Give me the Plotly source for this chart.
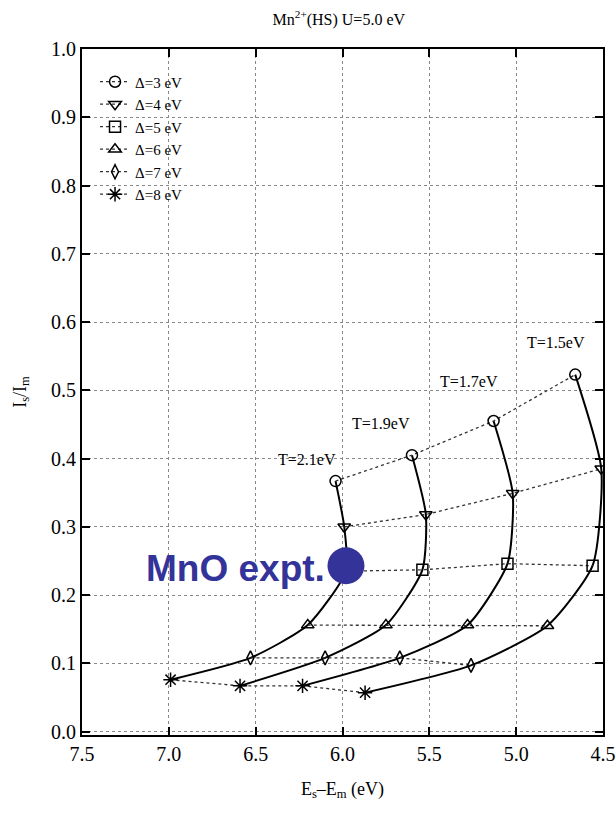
import plotly.graph_objects as go

T_labels = ["T=2.1eV", "T=1.9eV", "T=1.7eV", "T=1.5eV"]
T_label_x = [6.205, 5.78, 5.27, 4.77]
T_label_y = [0.398, 0.452, 0.513, 0.570]

delta_names = ["Δ=3 eV", "Δ=4 eV", "Δ=5 eV", "Δ=6 eV", "Δ=7 eV", "Δ=8 eV"]
delta3_x = [6.04, 5.60, 5.13, 4.66]
delta3_y = [0.367, 0.405, 0.455, 0.523]
delta4_x = [5.99, 5.52, 5.02, 4.51]
delta4_y = [0.300, 0.318, 0.349, 0.385]
delta5_x = [5.98, 5.54, 5.05, 4.56]
delta5_y = [0.235, 0.237, 0.246, 0.243]
delta6_x = [6.20, 5.75, 5.28, 4.82]
delta6_y = [0.156, 0.156, 0.156, 0.155]
delta7_x = [6.53, 6.10, 5.67, 5.26]
delta7_y = [0.108, 0.108, 0.108, 0.097]
delta8_x = [6.99, 6.59, 6.23, 5.87]
delta8_y = [0.076, 0.067, 0.067, 0.057]

mno_x = [5.98]
mno_y = [0.243]

all_x = [delta3_x, delta4_x, delta5_x, delta6_x, delta7_x, delta8_x]
all_y = [delta3_y, delta4_y, delta5_y, delta6_y, delta7_y, delta8_y]
symbols = ["circle-open", "triangle-down-open", "square-open", "triangle-up-open",
           "diamond-tall-open", "asterisk-open"]
sizes = [11, 11, 11, 11, 10, 12]

SERIF = "Liberation Serif, Times New Roman, serif"

fig = go.Figure()

# solid lines: constant T across Δ
for j in range(len(T_labels)):
    fig.add_trace(go.Scatter(
        x=[xs[j] for xs in all_x], y=[ys[j] for ys in all_y],
        mode="lines", line=dict(color="black", width=2, shape="spline", smoothing=0.6),
        showlegend=False, hoverinfo="skip"))

# dotted lines + markers: constant Δ across T
for name, xs, ys, sym, sz in zip(delta_names, all_x, all_y, symbols, sizes):
    fig.add_trace(go.Scatter(
        x=xs, y=ys, mode="lines+markers", name=name,
        line=dict(color="#333333", width=1.3, dash="dot"),
        marker=dict(symbol=sym, size=sz, color="black",
                    line=dict(color="black", width=1.5))))

fig.add_trace(go.Scatter(
    x=mno_x, y=mno_y, mode="markers", showlegend=False,
    marker=dict(size=37, color="#333399")))

for t, tx, ty in zip(T_labels, T_label_x, T_label_y):
    fig.add_annotation(x=tx, y=ty, text=t, showarrow=False,
                       font=dict(family=SERIF, size=16, color="black"))

fig.add_annotation(x=mno_x[0], y=mno_y[0], text="<b>MnO expt.</b>", showarrow=False,
                   xanchor="right", xshift=-19, yshift=-3,
                   font=dict(family="Liberation Sans, Arial, sans-serif", size=37, color="#333399"))

axis_common = dict(
    showline=True, linecolor="black", linewidth=2, mirror="ticks",
    ticks="inside", ticklen=8, tickwidth=1.5, tickcolor="black",
    showgrid=True, gridcolor="#888888", gridwidth=1, griddash="dot",
    zeroline=False, tickfont=dict(family=SERIF, size=20, color="black"),
    automargin=False, ticklabeloverflow="allow",
)

fig.update_xaxes(range=[7.5, 4.5], dtick=0.5, tick0=4.5, tickformat=".1f",
                 title=dict(text="E<sub>s</sub>–E<sub>m</sub> (eV)",
                            font=dict(family=SERIF, size=18, color="black"), standoff=18),
                 **axis_common)
fig.update_yaxes(range=[-0.005, 1.0], dtick=0.1, tick0=0, tickformat=".1f",
                 title=dict(text="I<sub>s</sub>/I<sub>m</sub>",
                            font=dict(family=SERIF, size=18, color="black"), standoff=20),
                 **axis_common)

fig.update_layout(
    width=616, height=819,
    margin=dict(l=82, r=13, t=49, b=84),
    paper_bgcolor="white", plot_bgcolor="white",
    title=dict(text="Mn<sup>2+</sup>(HS) U=5.0 eV", x=0.55, xanchor="center", y=0.983,
               font=dict(family=SERIF, size=16, color="black")),
    legend=dict(x=0.025, y=0.976, xanchor="left", yanchor="top",
                bgcolor="rgba(0,0,0,0)", font=dict(family=SERIF, size=15, color="black"),
                itemwidth=30, tracegroupgap=0),
    showlegend=True,
)

fig.write_html("out.html")
